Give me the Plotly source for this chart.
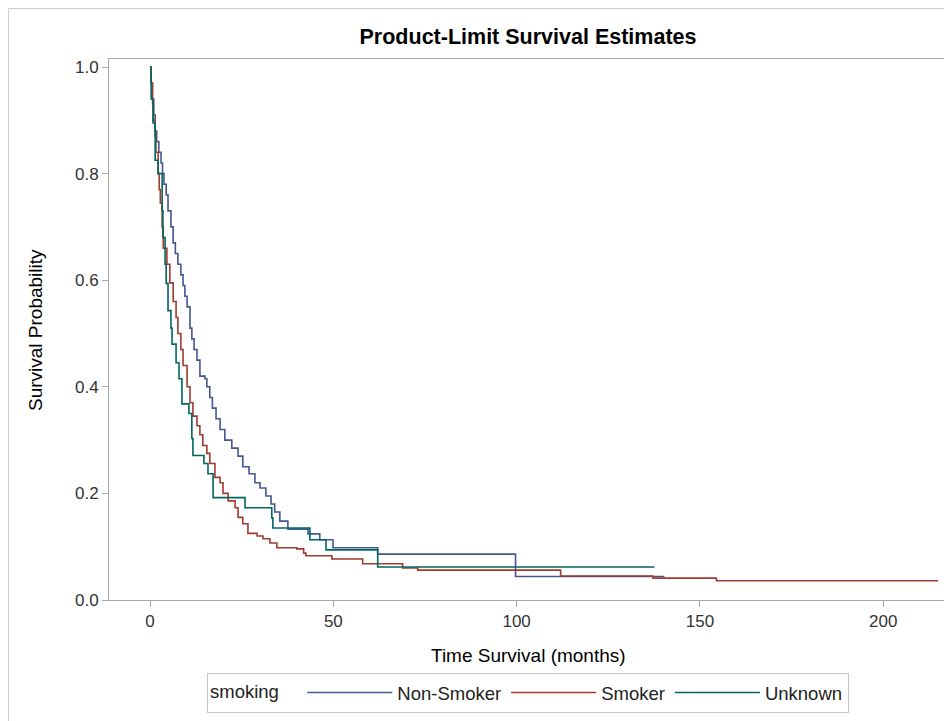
import plotly.graph_objects as go

# ---- data ----
non_smoker_t = [0, 0.3, 0.6, 1.0, 1.4, 1.8, 2.4, 3.0, 3.4, 3.8, 4.4, 4.9, 5.7, 6.3, 6.9, 7.6,
                8.4, 9.0, 9.5, 10.1, 10.9, 11.4, 12.0, 12.8, 13.6, 15.0, 15.5, 16.3, 17.0, 18.0,
                19.1, 20.4, 22.3, 24.0, 25.3, 27.0, 28.6, 30.0, 31.6, 33.0, 34.0, 35.4, 37.6,
                43.1, 46.3, 49.9, 62.1, 99.7, 140.3]
non_smoker_s = [1.0, 0.97, 0.94, 0.91, 0.88, 0.86, 0.84, 0.82, 0.80, 0.78, 0.76, 0.73, 0.70, 0.67,
                0.65, 0.63, 0.61, 0.59, 0.57, 0.55, 0.51, 0.49, 0.47, 0.45, 0.42, 0.415, 0.40, 0.38,
                0.36, 0.34, 0.32, 0.30, 0.285, 0.27, 0.25, 0.237, 0.22, 0.21, 0.195, 0.18, 0.165,
                0.148, 0.133, 0.124, 0.113, 0.098, 0.086, 0.044, 0.044]

smoker_t = [0, 0.3, 0.7, 0.9, 1.4, 1.6, 2.2, 2.5, 2.8, 3.3, 3.6, 4.6, 5.4, 6.3, 7.1, 7.6, 8.4,
            9.0, 10.1, 10.9, 11.7, 12.8, 13.6, 14.4, 15.5, 16.3, 17.7, 19.1, 19.9, 21.3, 23.2,
            24.0, 25.3, 26.7, 29.2, 30.8, 32.7, 34.6, 40.0, 41.9, 42.5, 49.6, 58.0, 68.9, 73.0,
            112.0, 137.2, 154.5, 215.0]
smoker_s = [1.0, 0.97, 0.93, 0.90, 0.87, 0.84, 0.80, 0.77, 0.745, 0.70, 0.66, 0.63, 0.595, 0.56,
            0.53, 0.50, 0.47, 0.44, 0.40, 0.37, 0.345, 0.327, 0.31, 0.29, 0.275, 0.256, 0.23,
            0.22, 0.20, 0.186, 0.173, 0.155, 0.143, 0.125, 0.12, 0.115, 0.107, 0.098, 0.096,
            0.088, 0.083, 0.077, 0.068, 0.060, 0.056, 0.045, 0.041, 0.036, 0.036]

unknown_t = [0, 0.3, 0.8, 1.4, 2.2, 3.3, 3.5, 4.1, 4.4, 4.9, 5.7, 6.0, 7.1, 7.9, 8.7, 10.6,
             11.4, 11.7, 14.7, 15.8, 17.2, 25.9, 33.2, 33.5, 43.6, 48.0, 62.1, 137.6]
unknown_s = [1.0, 0.94, 0.895, 0.825, 0.80, 0.73, 0.68, 0.63, 0.594, 0.543, 0.51, 0.48, 0.445,
             0.415, 0.368, 0.35, 0.303, 0.271, 0.256, 0.237, 0.192, 0.173, 0.154, 0.135, 0.113,
             0.094, 0.062, 0.062]

series_names = ["Non-Smoker", "Smoker", "Unknown"]
series_colors = ["#445694", "#A23A2E", "#01665E"]

x_ticks = [0, 50, 100, 150, 200]
y_ticks = [0.0, 0.2, 0.4, 0.6, 0.8, 1.0]

FONT = "Liberation Sans, Arial, sans-serif"

fig = go.Figure()
for name, t, s, c in zip(series_names,
                         [non_smoker_t, smoker_t, unknown_t],
                         [non_smoker_s, smoker_s, unknown_s],
                         series_colors):
    fig.add_trace(go.Scatter(x=t, y=s, mode="lines", name=name,
                             line=dict(color=c, width=1.6, shape="hv")))

axis_common = dict(showline=True, linecolor="#a8a8a8", linewidth=1, mirror=True,
                   showgrid=False, zeroline=False, ticks="outside", ticklen=6,
                   tickcolor="#a8a8a8", tickfont=dict(family=FONT, size=17, color="#333333"))

# plot area in figure pixels: left 101, right 939, top 51, bottom 592
PL, PB = 101, 592
PW, PH = 838, 541

fig.update_layout(
    width=952, height=721,
    paper_bgcolor="white", plot_bgcolor="white",
    margin=dict(l=101, r=13, t=51, b=129),
    font=dict(family=FONT, color="#000000"),
    title=dict(text="<b>Product-Limit Survival Estimates</b>", x=0.5, xref="paper",
               yref="container", y=1 - 28 / 721, yanchor="middle",
               font=dict(family=FONT, size=21.5, color="#000000")),
    xaxis=dict(range=[-11.2, 217.4], tickvals=x_ticks, **axis_common),
    yaxis=dict(range=[0, 1.015], tickvals=y_ticks, tickformat=".1f", **axis_common),
    legend=dict(orientation="h", x=0.5, xanchor="center", y=(592 - 685) / PH, yanchor="middle",
                bordercolor="#c8c8c8", borderwidth=1, bgcolor="white",
                font=dict(family=FONT, size=18.5, color="#222222"),
                title=dict(text="smoking   ", side="left",
                           font=dict(family=FONT, size=18.5, color="#222222")),
                itemwidth=85),
    annotations=[
        dict(text="Time Survival (months)", xref="paper", yref="paper", x=0.5,
             y=(592 - 647) / PH, xanchor="center", yanchor="middle", showarrow=False,
             font=dict(family=FONT, size=19, color="#000000")),
        dict(text="Survival Probability", xref="paper", yref="paper", x=(27 - PL) / PW,
             y=(592 - 322) / PH, xanchor="center", yanchor="middle", textangle=-90, showarrow=False,
             font=dict(family=FONT, size=19, color="#000000")),
    ],
    shapes=[
        dict(type="rect", xref="paper", yref="paper", x0=(0.5 - PL) / PW, x1=(960 - PL) / PW,
             y0=(PB - 740) / PH, y1=(PB - 0.5) / PH, line=dict(color="#cccccc", width=1),
             layer="below"),
    ],
)

fig.write_html("out.html")
